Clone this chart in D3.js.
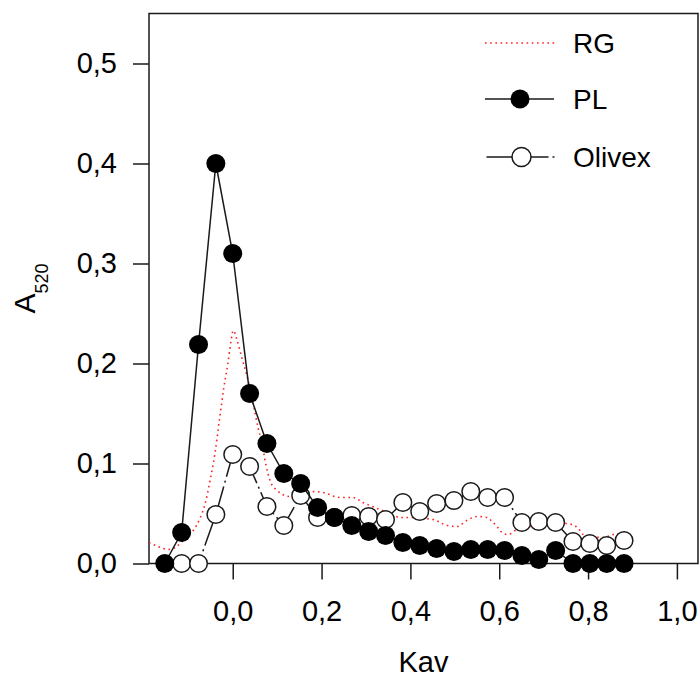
<!DOCTYPE html>
<html>
<head>
<meta charset="utf-8">
<script src="https://cdn.jsdelivr.net/npm/d3@7"></script>
<style>
  html, body { margin: 0; padding: 0; background: #fff; }
  svg { display: block; font-family: "Liberation Sans", Arial, sans-serif; }
</style>
</head>
<body>
<svg id="chart" width="699" height="680"></svg>
<script>
// ---- data ----
const kav = [-0.153, -0.115, -0.077, -0.038, 0.000, 0.038, 0.077, 0.115, 0.153, 0.191,
             0.229, 0.268, 0.306, 0.344, 0.383, 0.421, 0.459, 0.498, 0.536, 0.574,
             0.612, 0.651, 0.689, 0.727, 0.766, 0.804, 0.842, 0.881];
const plValues = [0.000, 0.031, 0.219, 0.400, 0.310, 0.170, 0.120, 0.090, 0.080, 0.056,
                  0.046, 0.038, 0.032, 0.028, 0.021, 0.018, 0.015, 0.012, 0.014, 0.014,
                  0.013, 0.008, 0.004, 0.013, 0.000, 0.000, 0.000, 0.000];
const olivexValues = [null, 0.000, 0.000, 0.049, 0.109, 0.097, 0.057, 0.038, 0.068, 0.046,
                      0.046, 0.048, 0.047, 0.044, 0.061, 0.052, 0.060, 0.063, 0.072, 0.066,
                      0.066, 0.041, 0.042, 0.041, 0.022, 0.020, 0.018, 0.023];
const rgKav = [-0.1885, -0.168, -0.146, -0.130, -0.107, -0.089, -0.074, -0.062, -0.051, -0.040,
               -0.031, -0.020, -0.011, -0.004, 0.001, 0.010, 0.021, 0.032, 0.046, 0.057,
               0.066, 0.075, 0.084, 0.100, 0.129, 0.152, 0.174, 0.203, 0.242, 0.271,
               0.293, 0.320, 0.354, 0.377, 0.399, 0.451, 0.483, 0.505, 0.527, 0.550,
               0.573, 0.584, 0.595, 0.609, 0.620, 0.636, 0.670, 0.715, 0.748, 0.764,
               0.778, 0.789, 0.832, 0.843, 0.857, 0.877];
const rgValues = [0.021, 0.017, 0.014, 0.016, 0.025, 0.033, 0.045, 0.060, 0.083, 0.110,
                  0.140, 0.176, 0.200, 0.222, 0.233, 0.223, 0.205, 0.188, 0.160, 0.136,
                  0.120, 0.098, 0.083, 0.073, 0.067, 0.069, 0.072, 0.071, 0.066, 0.066,
                  0.061, 0.056, 0.050, 0.046, 0.046, 0.044, 0.038, 0.037, 0.043, 0.047,
                  0.046, 0.042, 0.037, 0.030, 0.029, 0.033, 0.037, 0.039, 0.040, 0.039,
                  0.035, 0.029, 0.026, 0.027, 0.029, 0.030];
const xTicks = [0.0, 0.2, 0.4, 0.6, 0.8, 1.0];
const yTicks = [0.0, 0.1, 0.2, 0.3, 0.4, 0.5];
const legendLabels = ["RG", "PL", "Olivex"];

// ---- layout ----
const svg = d3.select("#chart");
const L = 149, R = 698, T = 13.5, B = 563.5;
const x = d3.scaleLinear().domain([-0.1885, 1.0475]).range([L, R]);
const y = d3.scaleLinear().domain([0, 0.55]).range([B, T]);
const fmt = v => d3.format(".1f")(v).replace(".", ",");
const ink = "#1a1a1a";

// axes
const xAxis = svg.append("g").attr("transform", `translate(0,${B})`)
  .call(d3.axisBottom(x).tickValues(xTicks).tickSize(16).tickPadding(21).tickFormat(fmt));
const yAxis = svg.append("g").attr("transform", `translate(${L},0)`)
  .call(d3.axisLeft(y).tickValues(yTicks).tickSize(16).tickPadding(16).tickFormat(fmt));
[xAxis, yAxis].forEach(g => {
  g.select(".domain").remove();
  g.selectAll(".tick line").attr("stroke", ink).attr("stroke-width", 1.5);
  g.selectAll(".tick text").attr("fill", "#000").style("font-size", "29px")
    .style("font-family", "'Liberation Sans', Arial, sans-serif");
});

// frame
svg.append("rect").attr("x", L).attr("y", T).attr("width", R - L).attr("height", B - T)
  .attr("fill", "none").attr("stroke", ink).attr("stroke-width", 1.5);

// clip
svg.append("clipPath").attr("id", "clip").append("rect")
  .attr("x", L).attr("y", 0).attr("width", R - L).attr("height", 680);

const plot = svg.append("g");

// RG dotted
const rgData = rgKav.map((k, i) => [k, rgValues[i]]);
plot.append("path").datum(rgData)
  .attr("clip-path", "url(#clip)")
  .attr("fill", "none").attr("stroke", "#ff2020").attr("stroke-width", 1.6)
  .attr("stroke-dasharray", "1.6,3.6")
  .attr("d", d3.line().x(d => x(d[0])).y(d => y(d[1])).curve(d3.curveMonotoneX));

// Olivex
const olData = kav.map((k, i) => [k, olivexValues[i]]).filter(d => d[1] !== null);
plot.append("path").datum(olData)
  .attr("fill", "none").attr("stroke", ink).attr("stroke-width", 1.5)
  .attr("stroke-dasharray", "26,4,2,4")
  .attr("d", d3.line().x(d => x(d[0])).y(d => y(d[1])));
plot.selectAll("circle.ol").data(olData).enter().append("circle")
  .attr("class", "ol").attr("cx", d => x(d[0])).attr("cy", d => y(d[1])).attr("r", 8.8)
  .attr("fill", "#fff").attr("stroke", ink).attr("stroke-width", 1.5);

// PL
const plData = kav.map((k, i) => [k, plValues[i]]);
plot.append("path").datum(plData)
  .attr("fill", "none").attr("stroke", ink).attr("stroke-width", 1.5)
  .attr("d", d3.line().x(d => x(d[0])).y(d => y(d[1])));
plot.selectAll("circle.pl").data(plData).enter().append("circle")
  .attr("class", "pl").attr("cx", d => x(d[0])).attr("cy", d => y(d[1])).attr("r", 9.5)
  .attr("fill", "#000");

// legend
const lg = svg.append("g");
const legY = [43, 99, 157];
lg.append("line").attr("x1", 485).attr("x2", 557).attr("y1", legY[0]).attr("y2", legY[0])
  .attr("stroke", "#ff2020").attr("stroke-width", 1.6).attr("stroke-dasharray", "1.6,3.6");
lg.append("line").attr("x1", 485).attr("x2", 554).attr("y1", legY[1]).attr("y2", legY[1])
  .attr("stroke", ink).attr("stroke-width", 1.5);
lg.append("circle").attr("cx", 520).attr("cy", legY[1]).attr("r", 9.5).attr("fill", "#000");
lg.append("line").attr("x1", 486.5).attr("x2", 557).attr("y1", legY[2]).attr("y2", legY[2])
  .attr("stroke", ink).attr("stroke-width", 1.5).attr("stroke-dasharray", "26,4,2,4");
lg.append("circle").attr("cx", 521.5).attr("cy", legY[2]).attr("r", 9.5)
  .attr("fill", "#fff").attr("stroke", ink).attr("stroke-width", 1.5);
lg.selectAll("text").data(legendLabels).enter().append("text")
  .attr("x", 573).attr("y", (d, i) => legY[i] + 10)
  .style("font-size", "28px").attr("fill", "#000").text(d => d);

// axis titles
svg.append("text").attr("x", (L + R) / 2).attr("y", 672).attr("text-anchor", "middle")
  .style("font-size", "29px").attr("fill", "#000").text("Kav");
const yt = svg.append("text").attr("transform", `translate(35,${(T + B) / 2}) rotate(-90)`)
  .attr("text-anchor", "middle").attr("fill", "#000");
yt.append("tspan").style("font-size", "30px").text("A");
yt.append("tspan").attr("dy", 13).style("font-size", "18px").text("520");
</script>
</body>
</html>
